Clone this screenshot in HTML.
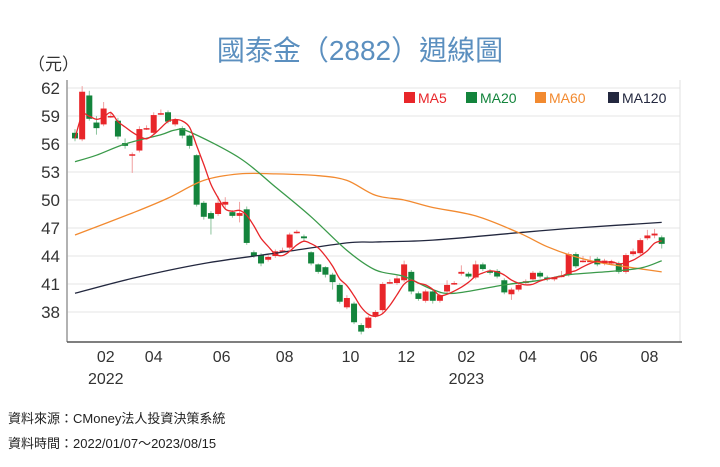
<!DOCTYPE html>
<html><head><meta charset="utf-8">
<style>
body{margin:0;background:#fff;width:720px;height:462px;overflow:hidden;font-family:"Liberation Sans","Noto Sans CJK TC",sans-serif;}
</style></head>
<body>
<svg id="chart" width="720" height="462" xmlns="http://www.w3.org/2000/svg" font-family="Liberation Sans, Noto Sans CJK TC, sans-serif">
<text x="360" y="60" text-anchor="middle" font-size="28" fill="#5b8fbf">國泰金（2882）週線圖</text>
<text x="28" y="70" font-size="17" fill="#333">（元）</text>
<g id="grid"></g>
<g id="candles"></g>
<g id="lines"></g>
<g id="axes"></g>
<g font-size="14">
<rect x="404" y="92" width="11" height="11" fill="#e8262a"/>
<text x="418" y="103" fill="#e8262a">MA5</text>
<rect x="466" y="92" width="11" height="11" fill="#13843c"/>
<text x="480" y="103" fill="#13843c">MA20</text>
<rect x="535" y="92" width="11" height="11" fill="#f28a30"/>
<text x="549" y="103" fill="#f28a30">MA60</text>
<rect x="608" y="92" width="11" height="11" fill="#23283f"/>
<text x="622" y="103" fill="#23283f">MA120</text>
</g>
<text x="8" y="423" font-size="13" fill="#222">資料來源：CMoney法人投資決策系統</text>
<text x="8" y="448" font-size="13" fill="#222">資料時間：2022/01/07～2023/08/15</text>
</svg>
<script>
// candle data [open, close, high, low]
const opens=[57.2,56.5,61.2,58.3,58.1,59.0,58.5,56.1,54.9,55.3,57.7,57.2,59.3,59.4,58.1,57.7,56.9,54.8,49.7,48.6,48.5,49.5,48.7,48.3,49.0,44.4,44.1,43.6,44.0,44.6,44.9,46.6,46.1,44.4,43.1,42.8,42.0,40.9,38.5,38.9,36.6,36.3,37.6,38.2,41.2,41.1,41.4,42.3,40.0,39.2,40.2,39.2,40.2,41.1,42.1,42.1,41.7,43.1,42.4,42.4,41.4,39.9,40.4,41.1,41.5,42.2,41.7,41.5,41.9,42.0,44.2,43.5,43.5,43.7,43.2,43.2,43.2,42.3,44.2,44.3,45.9,46.2,46.0];
const closes=[56.6,61.6,58.7,57.7,59.8,59.0,56.8,55.8,54.9,57.6,57.7,59.1,59.3,58.4,58.6,56.9,55.8,49.5,48.2,48.0,49.7,49.8,48.3,48.6,45.4,44.0,43.2,43.9,44.5,44.6,46.3,46.6,45.9,43.2,42.3,42.0,41.2,39.1,39.5,36.9,35.9,37.4,38.0,41.0,41.2,41.6,43.1,40.2,39.4,40.2,39.2,39.8,40.9,41.1,42.3,41.8,43.1,42.6,42.2,41.8,40.1,40.4,40.9,41.3,42.2,41.8,41.5,41.7,41.9,44.2,42.9,43.5,43.5,43.1,43.5,43.4,42.3,44.1,44.5,45.7,46.2,46.4,45.3];
const highs=[57.6,62.2,61.7,59.0,60.5,59.5,58.8,56.6,55.1,57.9,58.0,59.4,59.7,59.6,58.8,57.9,57.0,54.9,49.9,48.8,50.4,50.3,48.9,49.8,49.3,44.6,44.3,44.1,44.7,44.9,46.5,46.8,46.3,44.5,43.2,42.9,42.2,41.1,39.8,39.1,36.8,37.6,38.2,41.2,41.5,41.9,43.5,42.5,40.2,40.4,40.4,40.0,41.4,41.3,43.0,42.3,43.5,43.3,42.6,42.6,41.6,40.6,41.1,41.5,42.4,42.4,41.9,41.8,42.4,44.4,44.4,44.0,44.0,43.9,43.7,43.6,43.4,44.3,44.8,45.9,46.8,46.9,46.2];
const lows=[56.3,56.3,58.5,57.0,57.9,58.8,56.5,55.5,52.9,55.1,57.5,57.0,59.1,58.2,57.9,56.6,55.5,49.3,47.9,46.3,48.3,49.1,48.1,47.6,45.2,43.8,42.9,43.4,43.8,44.4,44.7,46.4,45.6,43.0,42.1,41.7,40.4,38.9,38.3,36.7,35.6,36.2,37.4,37.8,41.0,40.9,41.2,39.9,39.2,39.0,38.9,39.0,40.0,40.9,41.9,41.6,41.5,42.4,42.0,41.6,39.9,39.3,40.2,40.9,41.3,41.6,41.3,41.3,41.7,41.8,42.7,43.3,43.3,42.9,43.0,43.0,42.1,42.1,44.0,44.1,45.7,45.9,44.8];
// moving-average samples: week index / value
const ma20Weeks=[0,3,7,12,14,16,23,28,33,38,42,46,50,53,60,65,69,74,79,82];
const ma20Vals=[54.1,54.8,56.0,57.0,57.5,57.3,54.5,51.4,48.2,44.6,42.5,41.8,40.4,40.0,40.9,41.4,42.0,42.3,42.7,43.5];
const ma60Weeks=[0,8,13,18,23,28,34,38,42,46,50,56,62,66,70,74,82];
const ma60Vals=[46.25,48.6,50.2,52.1,52.8,52.8,52.6,52.1,50.5,50.0,49.2,48.3,46.5,45.0,43.9,43.2,42.3];
const ma120Weeks=[0,8,18,28,38,42,50,62,70,82];
const ma120Vals=[40.0,41.6,43.2,44.3,45.4,45.5,45.7,46.5,47.0,47.6];
const yTicks=[62,59,56,53,50,47,44,41,38];
const monthLabels=["02","04","06","08","10","12","02","04","06","08"];
const monthWeeks=[4.3,11,20.5,29.3,38.5,46.3,54.7,63.3,71.8,80.3];
const yearLabels=["2022","2023"];
const yearWeeks=[4.3,54.7];

const NS="http://www.w3.org/2000/svg";
const X0=67,X1=680,Y0=80,Y1=342;
function xs(i){return 75+i*7.155;}
function ys(v){return 88+(62-v)*9.333;}
function mk(tag,attrs,parent){const e=document.createElementNS(NS,tag);for(const k in attrs)e.setAttribute(k,attrs[k]);parent.appendChild(e);return e;}
const grid=document.getElementById('grid'),axes=document.getElementById('axes'),cg=document.getElementById('candles'),lg=document.getElementById('lines');
yTicks.forEach(v=>{
  const l=mk('line',{x1:X0,x2:X1,y1:ys(v),y2:ys(v),stroke:'#e6e6e6','stroke-width':1},grid);
  
  
  const t=mk('text',{x:60,y:ys(v)+6,'text-anchor':'end','font-size':17,fill:'#333'},axes);
  
  
  t.textContent=v;
});
let a=mk('line',{x1:X0,x2:X0,y1:Y0,y2:Y1,stroke:'#999','stroke-width':1.5},axes);


a=mk('line',{x1:X1,x2:X1,y1:Y0,y2:Y1,stroke:'#e0e0e0','stroke-width':1},axes);


a=mk('line',{x1:X0,x2:X1+2,y1:Y1,y2:Y1,stroke:'#555','stroke-width':1.5},axes);


monthLabels.forEach((m,k)=>{
  const t=mk('text',{x:xs(monthWeeks[k]),y:362,'text-anchor':'middle','font-size':16,fill:'#333'},axes);
  
  
  t.textContent=m;
});
yearLabels.forEach((m,k)=>{
  const t=mk('text',{x:xs(yearWeeks[k]),y:384,'text-anchor':'middle','font-size':16,fill:'#333'},axes);
  
  
  t.textContent=m;
});
opens.forEach((o,i)=>{
  const c=closes[i],up=c>=o,col=up?'#e8262a':'#13843c',x=xs(i);
  const w=mk('line',{x1:x,x2:x,y1:ys(highs[i]),y2:ys(lows[i]),stroke:up?'#f0a0a0':'#8cc49c','stroke-width':1},cg);
  
  
  const top=ys(Math.max(o,c)),h=Math.max(1.5,Math.abs(ys(o)-ys(c)));
  const r=mk('rect',{x:x-3,y:top,width:6,height:h,fill:col},cg);
  
  
});
function smooth(pts){
  let d='M'+pts[0][0].toFixed(1)+','+pts[0][1].toFixed(1);
  for(let i=0;i<pts.length-1;i++){
    const p0=pts[Math.max(0,i-1)],p1=pts[i],p2=pts[i+1],p3=pts[Math.min(pts.length-1,i+2)];
    const c1x=p1[0]+(p2[0]-p0[0])/6,c1y=p1[1]+(p2[1]-p0[1])/6;
    const c2x=p2[0]-(p3[0]-p1[0])/6,c2y=p2[1]-(p3[1]-p1[1])/6;
    d+=' C'+c1x.toFixed(1)+','+c1y.toFixed(1)+' '+c2x.toFixed(1)+','+c2y.toFixed(1)+' '+p2[0].toFixed(1)+','+p2[1].toFixed(1);
  }
  return d;
}
function poly(pts,color,name){
  const p=mk('path',{d:smooth(pts),fill:'none',stroke:color,'stroke-width':1.3,'stroke-linejoin':'round'},lg);
  
  
}
poly(ma120Weeks.map((w,k)=>[xs(w),ys(ma120Vals[k])]),'#23283f','ma120-line');
poly(ma60Weeks.map((w,k)=>[xs(w),ys(ma60Vals[k])]),'#f28a30','ma60-line');
poly(ma20Weeks.map((w,k)=>[xs(w),ys(ma20Vals[k])]),'#3a9a4a','ma20-line');
const ma5=closes.map((c,i)=>{const s=closes.slice(Math.max(0,i-4),i+1);return s.reduce((p,q)=>p+q,0)/s.length;});
poly(ma5.map((v,i)=>[xs(i),ys(v)]),'#e8262a','ma5-line');
</script>
</body></html>
